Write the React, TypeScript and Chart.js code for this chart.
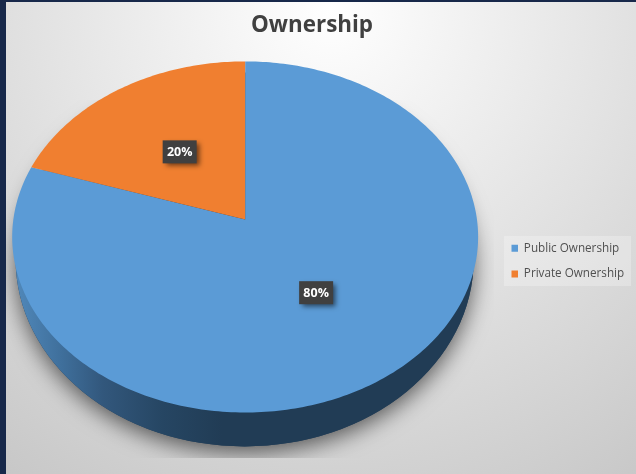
import React, { useEffect, useRef } from "react";
import { Chart, registerables } from "chart.js";

Chart.register(...registerables);

const categories = ["Public Ownership", "Private Ownership"];
const shareValues = [80, 20];
const sliceColors = ["#5b9bd6", "#f07f30"];
const chartTitle = "Ownership";

const W = 636;
const H = 474;
const FONT = '"Open Sans", sans-serif';

// The reference pie is tilted in perspective: a projective map of the circle.
const TILT = -0.0997;
const FACE_X = 231.8;
const FACE_Y = 173.8;

function project(arc: any, angle: number, r = 1) {
  const cx = Math.cos(angle) * r;
  const cy = Math.sin(angle) * r;
  const w = 1 + TILT * cy;
  return { x: arc.x + (FACE_X * cx) / w, y: arc.y + (FACE_Y * cy) / w };
}

const piePerspective = {
  id: "piePerspective",
  beforeDraw(chart: any) {
    const { ctx } = chart;
    ctx.save();
    ctx.fillStyle = "#17284a";
    ctx.fillRect(0, 0, W, H);
    const g = ctx.createRadialGradient(330, 10, 0, 330, 10, 600);
    g.addColorStop(0, "#ffffff");
    g.addColorStop(1, "#c4c4c4");
    ctx.fillStyle = g;
    ctx.fillRect(6, 2, W - 6, H - 2);
    ctx.fillStyle = "rgba(255,255,255,0.26)";
    ctx.fillRect(504, 236, 127, 50);
    ctx.restore();
  },
  afterLayout(chart: any) {
    const t = chart.titleBlock;
    t.left -= 1.5;
    t.right -= 1.5;
    const lg = chart.legend;
    lg.left = 497.5;
    lg.right = 636;
    lg.width = 138.5;
    lg.top = 228.5;
    lg.bottom = 320;
    lg.height = 91.5;
  },
  beforeDatasetDraw(chart: any) {
    const { ctx } = chart;
    const arcs = chart.getDatasetMeta(0).data;
    const a0 = arcs[0];
    const sideCx = a0.x - 0.5;
    const sideCy = a0.y + 40;
    const sideRx = 229;
    const sideRy = 187;

    // drop shadow under the rim
    ctx.save();
    ctx.beginPath();
    ctx.rect(6, 100, 488, 358);
    ctx.clip();
    ctx.shadowColor = "rgba(0,0,0,0.6)";
    ctx.shadowBlur = 22;
    ctx.shadowOffsetY = 6;
    ctx.fillStyle = "#223d57";
    ctx.beginPath();
    ctx.ellipse(sideCx, sideCy, sideRx, sideRy, 0, 0, Math.PI * 2);
    ctx.fill();
    ctx.restore();

    // rim
    const rim = ctx.createLinearGradient(16, 0, 474, 0);
    rim.addColorStop(0, "#5088ba");
    rim.addColorStop(0.1, "#3f6f9b");
    rim.addColorStop(0.19, "#32577c");
    rim.addColorStop(0.32, "#264663");
    rim.addColorStop(0.45, "#213c55");
    rim.addColorStop(1, "#213c55");
    ctx.fillStyle = rim;
    ctx.beginPath();
    ctx.ellipse(sideCx, sideCy, sideRx, sideRy, 0, 0, Math.PI * 2);
    ctx.fill();

    // slices
    arcs.forEach((arc: any, i: number) => {
      const { startAngle, endAngle } = arc.getProps(["startAngle", "endAngle"], true);
      const steps = Math.ceil(Math.abs(endAngle - startAngle) * 60);
      ctx.beginPath();
      ctx.moveTo(arc.x, arc.y);
      for (let s = 0; s <= steps; s++) {
        const p = project(arc, startAngle + ((endAngle - startAngle) * s) / steps);
        ctx.lineTo(p.x, p.y);
      }
      ctx.closePath();
      ctx.fillStyle = sliceColors[i];
      ctx.fill();
    });
    return false;
  },
  afterDatasetsDraw(chart: any) {
    const { ctx } = chart;
    const arcs = chart.getDatasetMeta(0).data;
    const total = shareValues.reduce((a, b) => a + b, 0);
    arcs.forEach((arc: any, i: number) => {
      const { startAngle, endAngle } = arc.getProps(["startAngle", "endAngle"], true);
      const p = project(arc, (startAngle + endAngle) / 2, 0.5);
      const label = `${Math.round((shareValues[i] / total) * 100)}%`;
      const bw = 34;
      const bh = 23;
      ctx.save();
      ctx.shadowColor = "rgba(0,0,0,0.55)";
      ctx.shadowBlur = 5;
      ctx.shadowOffsetX = 3;
      ctx.shadowOffsetY = 3;
      ctx.fillStyle = "#404040";
      ctx.fillRect(p.x - bw / 2, p.y - bh / 2, bw, bh);
      ctx.restore();
      ctx.save();
      ctx.fillStyle = "#ffffff";
      ctx.font = `700 12.5px ${FONT}`;
      ctx.textAlign = "center";
      ctx.textBaseline = "middle";
      ctx.fillText(label, p.x, p.y + 0.5);
      ctx.restore();
    });
  },
};

export default function App() {
  const ref = useRef<HTMLCanvasElement>(null);
  useEffect(() => {
    document.body.style.margin = "0";
    const chart = new Chart(ref.current as HTMLCanvasElement, {
      type: "pie",
      data: {
        labels: categories,
        datasets: [{ data: shareValues, backgroundColor: sliceColors, borderWidth: 0 }],
      },
      plugins: [piePerspective],
      options: {
        responsive: false,
        animation: false,
        devicePixelRatio: 1,
        layout: { padding: { left: 0, right: 9, top: 0, bottom: 84 } },
        plugins: {
          title: {
            display: true,
            text: chartTitle,
            color: "#404040",
            font: { family: FONT, size: 22.4, weight: "700" },
            padding: { top: 12, bottom: 10 },
          },
          legend: {
            display: true,
            position: "right",
            align: "start",
            labels: {
              boxWidth: 6.5,
              boxHeight: 7,
              padding: 14,
              color: "#505050",
              font: { family: FONT, size: 11.7 },
            },
          },
          tooltip: { enabled: false },
        },
      },
    } as any);
    return () => chart.destroy();
  }, []);
  return (
    <canvas
      ref={ref}
      width={W}
      height={H}
      style={{ display: "block", width: W, height: H }}
    />
  );
}
